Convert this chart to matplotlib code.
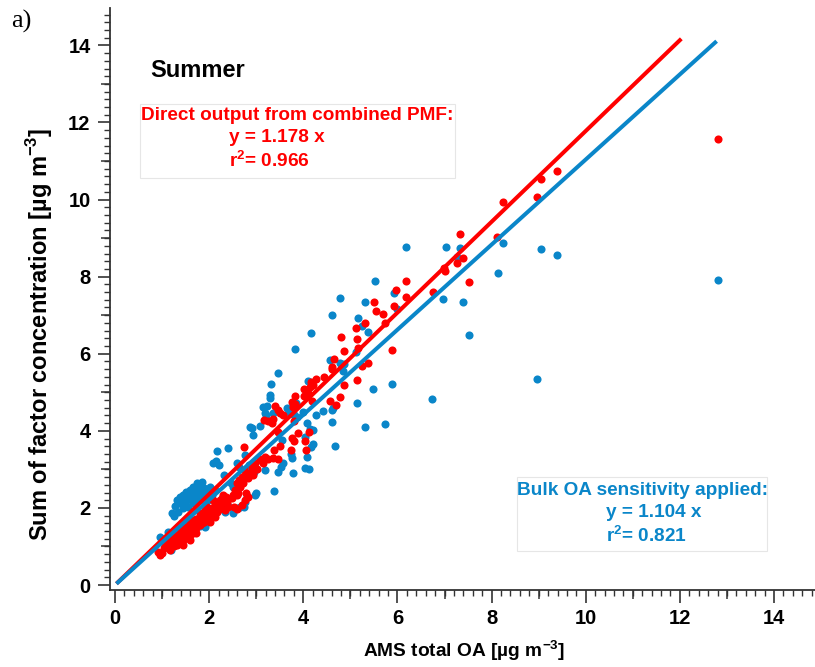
import matplotlib
matplotlib.use("Agg")
import matplotlib.pyplot as plt
from matplotlib.patches import Rectangle
from matplotlib.ticker import MultipleLocator, FixedLocator, NullFormatter

plt.rcParams['font.family'] = ['Liberation Sans', 'DejaVu Sans']
plt.rcParams['font.weight'] = 'bold'
plt.rcParams['mathtext.fontset'] = 'custom'
plt.rcParams['mathtext.rm'] = 'Liberation Sans:bold'
plt.rcParams['mathtext.bf'] = 'Liberation Sans:bold'

RED = '#ff0000'
BLUE = '#0a86c9'

# direct output from combined PMF (AMS OA, sum of factors)
pmf_x = [12.80, 9.39, 9.04, 8.97, 8.25, 7.32, 7.40, 7.27, 7.51, 8.11,
         6.98, 7.01, 6.75, 6.18, 6.18, 5.97, 5.93, 5.50, 5.54, 5.70, 5.74, 5.31, 5.12, 4.80, 5.13,
         5.16, 4.87, 5.88, 5.38, 5.25, 4.66, 4.62, 4.62, 4.43, 4.26, 4.16, 4.21, 4.14, 4.02, 4.87,
         5.15, 4.79, 4.57, 4.69, 4.18, 3.83, 3.75, 3.82, 3.78, 3.40, 3.47, 3.51, 3.56, 3.17, 3.26,
         3.33, 3.36, 3.81, 3.47, 3.89, 4.12, 3.75, 3.80, 4.04, 4.06, 3.74, 3.51, 3.38, 3.19, 3.26,
         3.36, 3.47, 3.07, 2.97, 3.15, 3.01, 2.94,
         4.11, 4.02, 2.74, 3.10, 2.90, 3.00, 2.87,
         2.74, 2.80, 2.69, 2.83, 2.64, 2.59, 2.71, 2.66, 2.55, 2.62, 2.50, 2.59, 2.48, 2.41, 2.37,
         2.78, 2.83, 2.76, 2.69, 2.53, 2.59, 2.41,
         0.92, 0.96, 1.06, 1.13, 1.20, 1.27, 1.34, 1.24, 1.41, 1.49, 1.38, 1.56, 1.63, 1.52, 1.70,
         1.77, 1.66, 1.84, 1.91, 1.81, 1.98, 2.05, 1.95, 2.12, 2.20, 2.09, 2.27, 2.30, 2.16, 2.02,
         1.88, 1.73, 1.59, 1.45, 1.31, 1.17, 0.99, 2.23, 2.34, 2.02, 2.12, 1.73, 1.59, 1.45, 1.34,
         1.10, 1.22, 1.30, 1.42, 1.50, 1.60, 1.68, 1.75, 1.85, 1.92, 2.00, 2.08, 2.15, 1.55, 1.65,
         1.80, 1.95, 2.25,
         1.05, 1.15, 1.25, 1.35, 1.28, 1.40, 1.48, 1.52, 1.62, 1.70, 1.78, 1.85, 1.90, 2.00, 2.10,
         2.18, 2.22, 2.30, 2.35, 1.72, 1.88, 1.60, 1.48, 1.12]
pmf_y = [11.56, 10.75, 10.53, 10.07, 9.93, 9.11, 8.48, 8.35, 7.86, 9.04,
         8.22, 8.15, 7.61, 7.90, 7.48, 7.65, 7.24, 7.35, 7.11, 7.03, 6.81, 6.81, 6.66, 6.43, 6.38,
         6.14, 6.08, 6.09, 5.77, 5.68, 5.86, 5.66, 5.60, 5.40, 5.34, 5.26, 5.19, 5.15, 5.08, 5.19,
         5.32, 4.89, 4.78, 4.68, 4.78, 4.91, 4.76, 4.70, 4.63, 4.65, 4.54, 4.47, 4.41, 4.28, 4.26,
         4.20, 4.31, 4.26, 3.98, 3.94, 3.98, 3.81, 3.74, 3.74, 3.50, 3.50, 3.61, 3.50, 3.33, 3.26,
         3.29, 3.26, 3.26, 3.16, 3.16, 3.00, 2.85,
         4.97, 4.90, 3.59, 3.24, 3.07, 3.00, 2.91,
         2.98, 2.85, 2.81, 2.77, 2.72, 2.64, 2.64, 2.54, 2.46, 2.38, 2.34, 2.34, 2.25, 2.22, 2.12,
         2.38, 2.28, 2.21, 2.08, 2.02, 1.96, 2.02,
         0.86, 0.78, 1.04, 0.99, 1.08, 1.12, 1.19, 1.25, 1.25, 1.32, 1.36, 1.38, 1.47, 1.51, 1.56,
         1.64, 1.69, 1.73, 1.82, 1.86, 1.90, 1.99, 2.03, 2.08, 2.16, 2.21, 2.25, 2.34, 1.90, 1.77,
         1.64, 1.47, 1.30, 1.17, 1.04, 0.91, 0.82, 2.03, 1.95, 1.64, 1.77, 1.34, 1.17, 1.04, 1.51,
         1.15, 1.18, 1.30, 1.40, 1.45, 1.55, 1.60, 1.72, 1.80, 1.95, 1.85, 1.95, 2.02, 1.25, 1.35,
         1.55, 1.70, 2.10,
         0.95, 1.05, 1.02, 1.10, 1.22, 1.30, 1.22, 1.40, 1.42, 1.50, 1.58, 1.62, 1.75, 1.95, 1.85,
         1.95, 2.20, 2.15, 2.28, 1.70, 1.88, 1.62, 1.50, 1.20]

# bulk OA sensitivity applied
bulk_x = [12.80, 9.04, 9.39, 8.25, 8.14, 7.32, 7.27, 7.40, 7.51, 8.97,
          6.18, 7.03, 6.97, 6.74, 5.53, 4.79, 5.30, 5.93, 5.98, 4.62, 5.16, 5.37, 5.24, 4.16, 3.82,
          4.57, 4.78, 4.87, 4.84, 5.12, 3.47, 3.31, 3.29, 3.29, 4.09, 4.06, 3.84, 3.22, 3.15, 3.65,
          3.70, 3.79, 3.86, 3.81, 4.26, 4.64, 5.15, 5.49, 5.88, 4.62, 5.31, 5.74, 4.20, 3.55, 4.04,
          4.21, 4.17, 4.68, 3.73, 3.75, 4.07, 3.56, 3.52, 4.04, 4.13, 3.79, 3.47, 3.19, 2.87, 2.94,
          3.07, 3.19, 3.21, 2.94,
          3.36, 2.92, 4.00, 4.41, 4.62, 4.07, 4.14, 3.38, 2.16, 2.39, 2.09, 2.15, 2.20, 2.59, 2.64,
          2.76, 2.80, 2.85, 2.95, 3.00, 2.97, 2.80, 2.32, 2.46, 2.51,
          1.85, 1.81, 1.74, 1.66, 1.59, 1.51, 1.45, 1.38, 1.31, 1.38, 1.27, 1.20, 1.25, 1.34, 1.45,
          1.56, 1.66, 1.77, 1.88, 1.95, 1.81, 1.70, 1.63, 1.52, 1.45, 1.56, 1.88, 1.77, 1.66, 2.02,
          1.98, 1.91, 2.12, 2.05,
          0.96, 1.18, 1.10, 1.13, 2.34, 2.51, 2.39, 2.62, 1.95, 1.81, 1.91, 1.54, 2.66, 2.76, 2.75]
bulk_y = [7.92, 8.71, 8.56, 8.88, 8.10, 8.75, 8.52, 7.35, 6.48, 5.34,
          8.78, 8.78, 7.42, 4.82, 7.90, 7.44, 7.35, 7.57, 7.16, 7.01, 6.94, 6.56, 6.73, 6.55, 6.12,
          5.84, 5.75, 5.73, 5.56, 6.05, 5.51, 5.21, 4.93, 4.86, 5.30, 4.90, 4.71, 4.64, 4.63, 4.58,
          4.50, 4.46, 4.37, 4.41, 4.41, 4.58, 4.71, 5.09, 5.21, 4.22, 4.09, 4.17, 4.02, 3.76, 3.85,
          3.66, 3.57, 3.61, 3.40, 3.29, 3.31, 3.16, 3.07, 3.03, 3.01, 2.90, 2.94, 2.98, 4.11, 3.89,
          4.13, 4.45, 4.41, 3.03,
          4.45, 4.08, 4.50, 4.51, 4.54, 4.21, 4.04, 2.44, 3.48, 3.55, 3.17, 3.23, 3.11, 3.17, 3.05,
          3.37, 3.03, 3.11, 2.92, 2.38, 2.34, 2.31, 2.85, 2.64, 2.54,
          2.68, 2.55, 2.64, 2.55, 2.46, 2.42, 2.34, 2.29, 2.21, 2.12, 2.05, 1.86, 1.79, 1.90, 1.99,
          2.03, 2.12, 2.21, 2.29, 2.42, 2.38, 2.34, 2.25, 2.21, 2.16, 2.34, 2.51, 2.46, 2.38, 2.55,
          2.21, 2.08, 2.46, 2.34,
          1.24, 0.91, 1.08, 1.38, 1.90, 1.86, 2.05, 1.99, 1.64, 1.54, 1.50, 1.60, 2.03, 2.16, 2.03]

# regression through origin
pmf_slope = 1.178
pmf_r2 = 0.966
bulk_slope = 1.104
bulk_r2 = 0.821
pmf_fit_x = [0.03, 12.03]
bulk_fit_x = [0.03, 12.78]

fig = plt.figure(figsize=(8.15, 6.67), dpi=100)
ax = fig.add_axes([0.135, 0.1154, 0.865, 0.8726])

ax.scatter(bulk_x, bulk_y, s=34, color=BLUE, linewidths=0, zorder=2)
ax.scatter(pmf_x, pmf_y, s=34, color=RED, linewidths=0, zorder=3)

ax.plot(pmf_fit_x, [pmf_slope * v for v in pmf_fit_x], color=RED, lw=2.9,
        solid_capstyle='butt', zorder=4)
ax.plot(bulk_fit_x, [bulk_slope * v for v in bulk_fit_x], color=BLUE, lw=2.9,
        solid_capstyle='butt', zorder=5)

ax.set_xlim(-0.106, 14.87)
ax.set_ylim(-0.13, 14.97)

for side in ('top', 'right'):
    ax.spines[side].set_visible(False)
for side in ('left', 'bottom'):
    ax.spines[side].set_linewidth(1.3)
    ax.spines[side].set_color('#333333')

ax.xaxis.set_major_locator(MultipleLocator(2))
ax.yaxis.set_major_locator(MultipleLocator(2))
ax.xaxis.set_minor_locator(MultipleLocator(0.2))
ax.yaxis.set_minor_locator(MultipleLocator(0.2))
ax.tick_params(which='major', direction='out', length=9, width=1.2, color='#333333',
               labelsize=14.5, pad=5)
ax.tick_params(which='minor', direction='out', length=4, width=1.0, color='#333333')
for lab in ax.get_xticklabels() + ax.get_yticklabels():
    lab.set_fontweight('bold')

# medium ticks at odd integers
odd = [1, 3, 5, 7, 9, 11, 13]
secx = ax.secondary_xaxis('bottom')
secx.xaxis.set_major_locator(FixedLocator(odd))
secx.xaxis.set_major_formatter(NullFormatter())
secx.tick_params(length=6.5, width=1.1, color='#333333')
secx.spines['bottom'].set_visible(False)
secy = ax.secondary_yaxis('left')
secy.yaxis.set_major_locator(FixedLocator(odd))
secy.yaxis.set_major_formatter(NullFormatter())
secy.tick_params(length=6.5, width=1.1, color='#333333')
secy.spines['left'].set_visible(False)

ax.set_xlabel('AMS total OA [µg m$^{-3}$]', fontsize=13.8, fontweight='bold')
ax.xaxis.set_label_coords(0.502, -0.083)
ax.set_ylabel('Sum of factor concentration [µg m$^{-3}$]', fontsize=17, fontweight='bold')
ax.yaxis.set_label_coords(-0.078, 0.44)

ax.text(0.74, 13.36, 'Summer', fontsize=17, fontweight='bold', color='black',
        ha='left', va='center')

# annotation boxes
ax.add_patch(Rectangle((0.53, 10.56), 6.69, 1.92, facecolor='white', edgecolor='#e6e6e6',
                       lw=0.8, zorder=6))
ax.text(0.55, 12.17, 'Direct output from combined PMF:', color=RED, fontsize=13.7,
        fontweight='bold', ha='left', va='center', zorder=7)
ax.text(2.42, 11.60, f'y = {pmf_slope:.3f} x', color=RED, fontsize=13.7,
        fontweight='bold', ha='left', va='center', zorder=7)
ax.text(2.42, 11.00, f'r$^{{2}}$= {pmf_r2:.3f}', color=RED, fontsize=13.7,
        fontweight='bold', ha='left', va='center', zorder=7)

ax.add_patch(Rectangle((8.54, 0.88), 5.31, 1.92, facecolor='white', edgecolor='#e6e6e6',
                       lw=0.8, zorder=6))
ax.text(8.54, 2.44, 'Bulk OA sensitivity applied:', color=BLUE, fontsize=13.7,
        fontweight='bold', ha='left', va='center', zorder=7)
ax.text(10.43, 1.89, f'y = {bulk_slope:.3f} x', color=BLUE, fontsize=13.7,
        fontweight='bold', ha='left', va='center', zorder=7)
ax.text(10.43, 1.27, f'r$^{{2}}$= {bulk_r2:.3f}', color=BLUE, fontsize=13.7,
        fontweight='bold', ha='left', va='center', zorder=7)

fig.text(0.014, 0.968, 'a)', fontsize=19, family='Liberation Serif', fontweight='normal',
         ha='left', va='center')

fig.savefig('out.png', dpi=100)
